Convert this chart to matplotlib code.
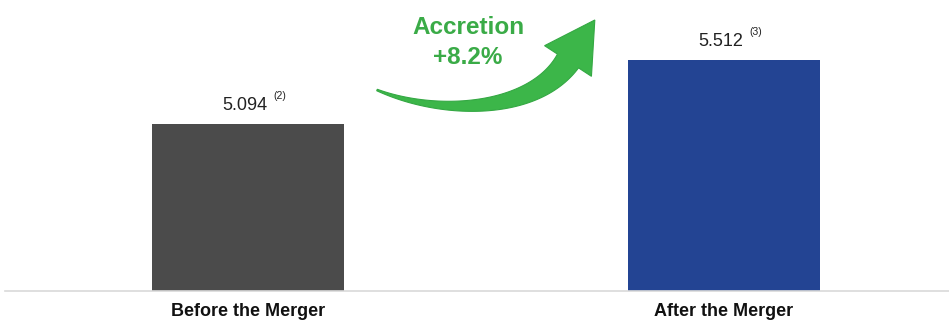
import numpy as np
import matplotlib.pyplot as plt
from matplotlib.patches import Polygon

plt.rcParams['font.family'] = ['Liberation Sans', 'DejaVu Sans']

categories = ['Before the Merger', 'After the Merger']
values = [5.094, 5.512]
notes = ['(2)', '(3)']
colors = ['#4b4b4b', '#234493']
accretion = '+8.2%'

fig = plt.figure(figsize=(9.49, 3.21), dpi=100)
W, H = 949, 321
ax = fig.add_axes([5 / W, 1 - 291 / H, 944 / W, 291 / H])

x = np.arange(len(categories))
bars = ax.bar(x, values, width=0.403, color=colors, zorder=2)
ax.set_xlim(-0.5105, 1.4727)
ax.set_ylim(4.0, 5.905)

for s in ['top', 'right', 'left']:
    ax.spines[s].set_visible(False)
ax.spines['bottom'].set_color('#d9d9d9')
ax.spines['bottom'].set_linewidth(1.2)
ax.set_yticks([])
ax.set_xticks(x)
ax.set_xticklabels(categories, fontsize=13, fontweight='bold', color='#111111')
ax.tick_params(axis='x', length=0, pad=8.5)

for xi, v, n in zip(x, values, notes):
    ax.annotate(f'{v:.3f}', (xi, v), xytext=(-2, 7), textcoords='offset points',
                ha='center', va='bottom', fontsize=13, color='#222222')
    ax.annotate(n, (xi, v), xytext=(23, 16.5), textcoords='offset points',
                ha='center', va='bottom', fontsize=7.5, color='#222222')

# overlay in pixel coordinates for the decorative arrow
ov = fig.add_axes([0, 0, 1, 1])
ov.set_xlim(0, W)
ov.set_ylim(H, 0)
ov.axis('off')
ov.patch.set_alpha(0)

c0 = np.array([377.0, 90.0])
c1 = np.array([440.0, 116.0])
c2 = np.array([534.0, 113.0])
c3 = np.array([568.0, 61.0])
t = np.linspace(0, 1, 80)[:, None]
pts = ((1 - t) ** 3 * c0 + 3 * (1 - t) ** 2 * t * c1
       + 3 * (1 - t) * t ** 2 * c2 + t ** 3 * c3)
der = (3 * (1 - t) ** 2 * (c1 - c0) + 6 * (1 - t) * t * (c2 - c1)
       + 3 * t ** 2 * (c3 - c2))
der = der / np.linalg.norm(der, axis=1)[:, None]
nrm = np.column_stack([-der[:, 1], der[:, 0]])
wid = (0.8 + 11.8 * t[:, 0] ** 1.1)[:, None]
upper = pts + nrm * wid
lower = pts - nrm * wid
d = der[-1]
n = nrm[-1]
tip = c3 + d * 49
head = [c3 + n * 28, tip, c3 - n * 28]
shape = np.vstack([upper, head, lower[::-1]])
ov.add_patch(Polygon(shape, closed=True, facecolor='#3cb649', edgecolor='#34a843', lw=0.8))

ov.text(468, 27, 'Accretion', ha='center', va='center', fontsize=17.5,
        fontweight='bold', color='#3aab47')
ov.text(468, 58, accretion, ha='center', va='center', fontsize=17.5,
        fontweight='bold', color='#3aab47')

fig.savefig('out.png', dpi=100)
